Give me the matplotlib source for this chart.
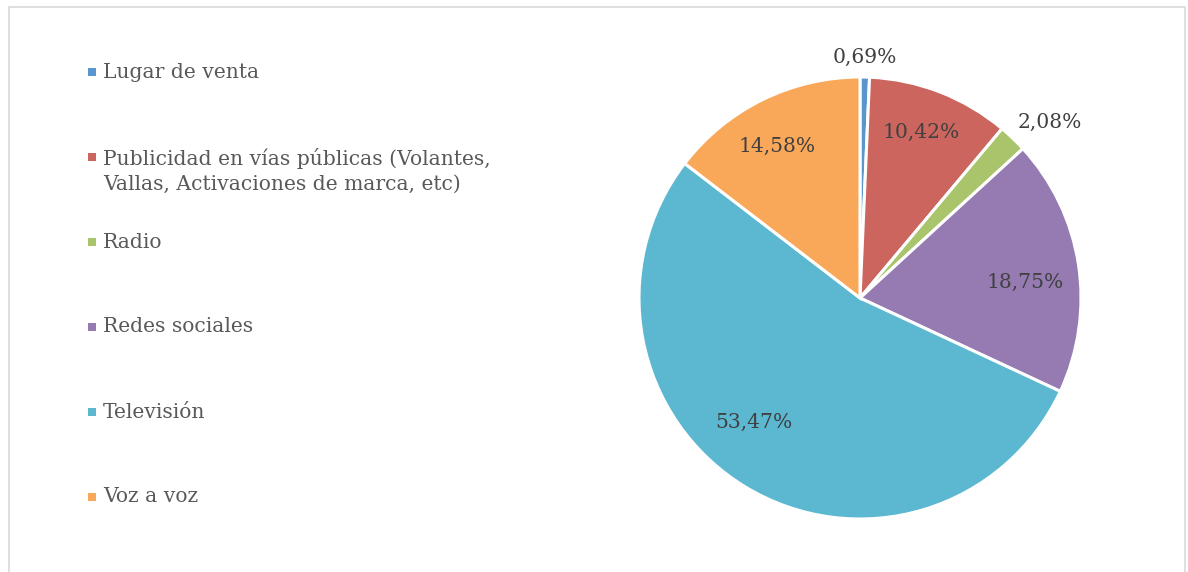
import matplotlib
matplotlib.use("Agg")
from matplotlib import pyplot as plt
from matplotlib.patches import Rectangle
import numpy as np

categories = [
    "Lugar de venta",
    "Publicidad en vías públicas (Volantes,\nVallas, Activaciones de marca, etc)",
    "Radio",
    "Redes sociales",
    "Televisión",
    "Voz a voz",
]
values = [0.69, 10.42, 2.08, 18.75, 53.47, 14.58]
colors = ["#5B95CE", "#CD655F", "#A9C46B", "#957BB2", "#5BB8D0", "#F9A85A"]

# radial position of each value label (fraction of radius) and angle nudge (deg)
label_dist = [1.09, 0.80, 1.17, 0.75, 0.74, 0.78]
label_shift = [0.0, 1.0, -3.5, -3.5, -9.0, 2.4]

W, H = 1188, 572
fig = plt.figure(figsize=(W / 100, H / 100), dpi=100)
fig.patch.set_facecolor("white")

# chart frame
fig.patches.append(Rectangle((9 / W, -0.02), 1176 / W, 1 - 7 / H + 0.02,
                             transform=fig.transFigure, fill=False,
                             edgecolor="#D9D9D9", linewidth=1.2))

font = "DejaVu Serif"
text_color = "#595959"

# pie
cx, cy, r = 860, 298, 221
ax = fig.add_axes([(cx - r) / W, (H - cy - r) / H, 2 * r / W, 2 * r / H])
wedges, _ = ax.pie(values, colors=colors, startangle=90, counterclock=False,
                   radius=1, wedgeprops=dict(edgecolor="white", linewidth=2.2))
ax.set_xlim(-1, 1)
ax.set_ylim(-1, 1)
ax.set_aspect("equal")
ax.axis("off")

for w, v, d, s in zip(wedges, values, label_dist, label_shift):
    ang = np.deg2rad((w.theta1 + w.theta2) / 2 + s)
    ax.text(d * np.cos(ang), d * np.sin(ang), f"{v:.2f}%".replace(".", ","),
            ha="center", va="center", fontsize=14.6, family=font,
            color="#404040", clip_on=False)

# legend
y0, step = 72, 85
for i, (cat, col) in enumerate(zip(categories, colors)):
    yc = y0 + step * i
    fig.patches.append(Rectangle((88 / W, 1 - (yc + 4) / H), 8 / W, 8 / H,
                                 transform=fig.transFigure, facecolor=col,
                                 edgecolor="none"))
    fig.text(103 / W, 1 - (yc - 9.5) / H, cat, ha="left", va="top",
             fontsize=14.6, family=font, color=text_color, linespacing=1.42)

fig.savefig("out.png", dpi=100)
